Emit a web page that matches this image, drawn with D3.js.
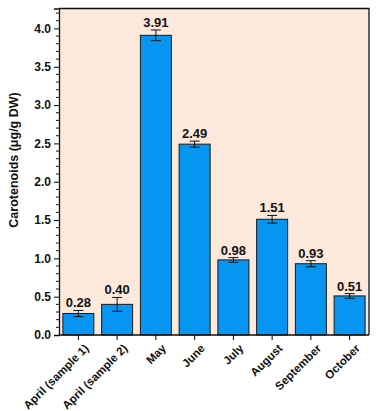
<!DOCTYPE html>
<html><head><meta charset="utf-8">
<script src="https://cdn.jsdelivr.net/npm/d3@7"></script>
<style>body{margin:0;background:#fff;} svg{display:block;font-family:Arial,"Liberation Sans",sans-serif;}</style>
</head><body>
<svg id="c" width="378" height="411"></svg>
<script>
const categories = ["April (sample 1)", "April (sample 2)", "May", "June", "July", "August", "September", "October"];
const values = [0.28, 0.40, 3.91, 2.49, 0.98, 1.51, 0.93, 0.51];
const errors = [0.04, 0.09, 0.07, 0.04, 0.03, 0.05, 0.04, 0.03];
const yTicks = [0.0, 0.5, 1.0, 1.5, 2.0, 2.5, 3.0, 3.5, 4.0];
const yLabel = "Carotenoids (μg/g DW)";

const svg = d3.select("#c");
const m = {l: 59, r: 9, t: 8.5, b: 76};
const W = 378, H = 411;
const x = d3.scaleBand().domain(categories).range([m.l, W - m.r]).paddingInner(0.2).paddingOuter(0.1);
const y = d3.scaleLinear().domain([0, 4.26]).range([H - m.b, m.t]);

svg.append("rect").attr("x", m.l).attr("y", m.t).attr("width", W - m.r - m.l).attr("height", H - m.b - m.t)
  .attr("fill", "#fce9dc");

const g = svg.append("g");
g.selectAll("rect.bar").data(values).join("rect").attr("class", "bar")
  .attr("x", (d, i) => x(categories[i])).attr("width", x.bandwidth())
  .attr("y", d => y(d)).attr("height", d => y(0) - y(d))
  .attr("fill", "#0795f2").attr("stroke", "#1a1a1a").attr("stroke-width", 1);

// error bars
const cap = 5;
values.forEach((v, i) => {
  const cx = x(categories[i]) + x.bandwidth() / 2;
  const e = errors[i];
  const eg = g.append("g").attr("stroke", "#111").attr("stroke-width", 1);
  eg.append("line").attr("x1", cx).attr("x2", cx).attr("y1", y(v - e)).attr("y2", y(v + e));
  eg.append("line").attr("x1", cx - cap).attr("x2", cx + cap).attr("y1", y(v - e)).attr("y2", y(v - e));
  eg.append("line").attr("x1", cx - cap).attr("x2", cx + cap).attr("y1", y(v + e)).attr("y2", y(v + e));
  g.append("text").attr("x", cx).attr("y", y(v + e) - 3).attr("text-anchor", "middle")
    .attr("font-size", 13).attr("font-weight", "bold").attr("fill", "#111").text(v.toFixed(2));
});

// frame top/right
svg.append("path").attr("d", `M${m.l},${m.t}H${W - m.r}V${H - m.b}`).attr("fill", "none").attr("stroke", "#111").attr("stroke-width", 1.3);

// y axis
const yAx = svg.append("g").attr("transform", `translate(${m.l},0)`)
  .call(d3.axisLeft(y).tickValues(yTicks).tickFormat(d3.format(".1f")).tickSize(5).tickPadding(3));
yAx.select(".domain").attr("stroke", "#111").attr("stroke-width", 1.3);
yAx.selectAll("text").attr("font-size", 12).attr("font-weight", "bold").attr("fill", "#111");
const minor = d3.range(0, 4.26, 0.1).filter(v => Math.abs(v * 2 - Math.round(v * 2)) > 1e-6);
svg.append("g").selectAll("line").data(minor).join("line")
  .attr("x1", m.l - 3).attr("x2", m.l).attr("y1", d => y(d)).attr("y2", d => y(d)).attr("stroke", "#111");

// x axis
const xAx = svg.append("g").attr("transform", `translate(0,${H - m.b})`)
  .call(d3.axisBottom(x).tickSize(5).tickSizeOuter(0));
xAx.select(".domain").attr("stroke", "#111").attr("stroke-width", 1.3).attr("d", `M${m.l},0H${W - m.r}`);
xAx.selectAll("text").attr("font-size", 11.5).attr("font-weight", "bold").attr("fill", "#111")
  .attr("text-anchor", "end").attr("x", 0).attr("y", 0).attr("dy", 0)
  .attr("transform", "translate(11,14) rotate(-45)");

svg.append("text").attr("transform", "translate(14,160) rotate(-90)").attr("text-anchor", "middle")
  .attr("dy", "0.35em").attr("font-size", 12.5).attr("font-weight", "bold").attr("fill", "#111").text(yLabel);
</script>
</body></html>
